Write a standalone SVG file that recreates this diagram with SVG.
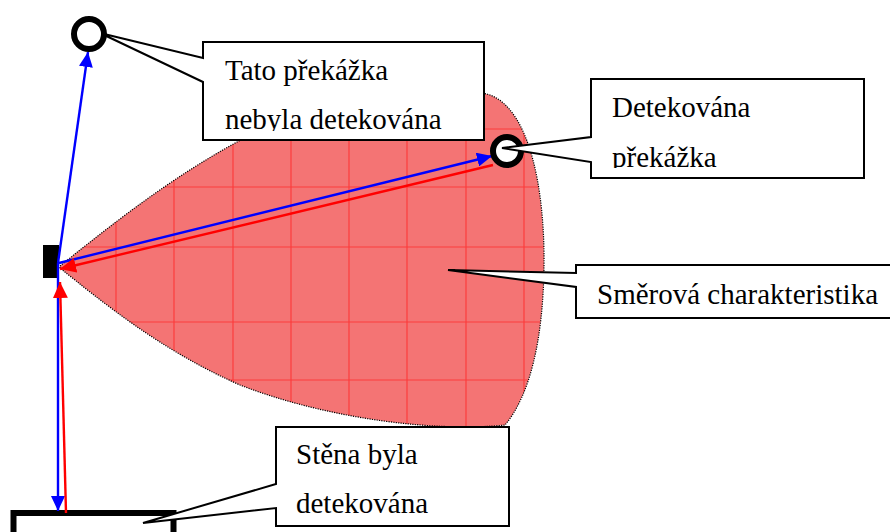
<svg xmlns="http://www.w3.org/2000/svg" width="890" height="532" viewBox="0 0 890 532">
<style>
.box{fill:#fff;stroke:#000;stroke-width:2;stroke-linejoin:miter}
text{font-family:'Liberation Serif','Times New Roman',Times,serif;font-size:29px;fill:#000}
.grid{stroke:#ff2a2a;stroke-width:1.2;opacity:0.75}
.blue{stroke:#0000ff;stroke-width:2.4;fill:none}
.red{stroke:#ff0000;stroke-width:2.4;fill:none}
.obst{fill:#fff;stroke:#000;stroke-width:6}
</style>
<defs>
<marker id="ab" viewBox="0 0 15 14" refX="15" refY="7" markerWidth="15" markerHeight="14" markerUnits="userSpaceOnUse" orient="auto"><path d="M0,0 L15,7 L0,14 Z" fill="#0000ff"/></marker>
<marker id="ar" viewBox="0 0 16 15" refX="16" refY="7.5" markerWidth="16" markerHeight="15" markerUnits="userSpaceOnUse" orient="auto"><path d="M0,0 L16,7.5 L0,15 Z" fill="#ff0000"/></marker>
<clipPath id="lobeClip"><path d="M60 266 C115 222 180 170 260 130 C350 95 440 80 490 95 C530 110 545 190 544 267 C543 340 530 395 505 425 C440 432 330 420 240 385 C160 350 100 300 60 268 Z"/></clipPath>
<clipPath id="c1"><rect x="203" y="42" width="281" height="89"/></clipPath>
<clipPath id="c2"><rect x="591" y="79" width="273" height="89"/></clipPath>
</defs>

<g id="lobe">
<path d="M60 266 C115 222 180 170 260 130 C350 95 440 80 490 95 C530 110 545 190 544 267 C543 340 530 395 505 425 C440 432 330 420 240 385 C160 350 100 300 60 268 Z" fill="#f47474"/>
<g clip-path="url(#lobeClip)" class="grid">
<line x1="116" y1="80" x2="116" y2="440"/><line x1="174" y1="80" x2="174" y2="440"/><line x1="233" y1="80" x2="233" y2="440"/><line x1="291" y1="80" x2="291" y2="440"/><line x1="349" y1="80" x2="349" y2="440"/><line x1="407" y1="80" x2="407" y2="440"/><line x1="466" y1="80" x2="466" y2="440"/><line x1="524" y1="80" x2="524" y2="440"/>
<line x1="50" y1="129" x2="560" y2="129"/><line x1="50" y1="187" x2="560" y2="187"/><line x1="50" y1="247" x2="560" y2="247"/><line x1="50" y1="322" x2="560" y2="322"/><line x1="50" y1="380" x2="560" y2="380"/>
</g>
<path d="M60 266 C115 222 180 170 260 130 C350 95 440 80 490 95 C530 110 545 190 544 267 C543 340 530 395 505 425 C440 432 330 420 240 385 C160 350 100 300 60 268 Z" fill="none" stroke="#000" stroke-width="1.2" stroke-dasharray="1.2 1.2"/>
</g>

<g id="wall">
<rect x="13.5" y="513" width="160" height="40" fill="#fff" stroke="#000" stroke-width="6"/>
</g>

<g id="sensor">
<rect x="43" y="245" width="16" height="33" fill="#000"/>
</g>

<g id="connectors">
<line class="blue" x1="58" y1="263" x2="88" y2="52" marker-end="url(#ab)"/>
<line class="blue" x1="58" y1="263" x2="58" y2="511" marker-end="url(#ab)"/>
<line class="red" x1="66" y1="513" x2="60" y2="282" marker-end="url(#ar)"/>
<line class="blue" x1="59" y1="263" x2="492" y2="156" marker-end="url(#ab)"/>
<line class="red" x1="493" y1="165" x2="60" y2="269" marker-end="url(#ar)"/>
</g>

<g id="callout-undetected">
<path class="box" d="M203 42 H484 V140 H203 V82 L100 33 L203 58 Z"/>
<g clip-path="url(#c1)">
<text x="225" y="80">Tato překážka</text>
<text x="225" y="129">nebyla detekována</text>
</g>
</g>

<g id="obstacle-undetected">
<circle class="obst" cx="89" cy="34" r="15"/>
</g>

<g id="obstacle-detected">
<circle class="obst" cx="507" cy="151" r="14"/>
</g>

<g id="callout-detected">
<path class="box" d="M591 79 H864 V178 H591 V162 L502 148 L591 137 Z"/>
<g clip-path="url(#c2)">
<text x="612" y="117">Detekována</text>
<text x="612" y="167">překážka</text>
</g>
</g>

<g id="callout-lobe">
<path class="box" d="M576 265 H900 V318 H576 V287 L448 270 L576 273 Z"/>
<text x="597" y="304">Směrová charakteristika</text>
</g>

<g id="callout-wall">
<path class="box" d="M276 427 H509 V526 H276 V508 L143 523 L276 484 Z"/>
<text x="296" y="464">Stěna byla</text>
<text x="296" y="513">detekována</text>
</g>
</svg>
